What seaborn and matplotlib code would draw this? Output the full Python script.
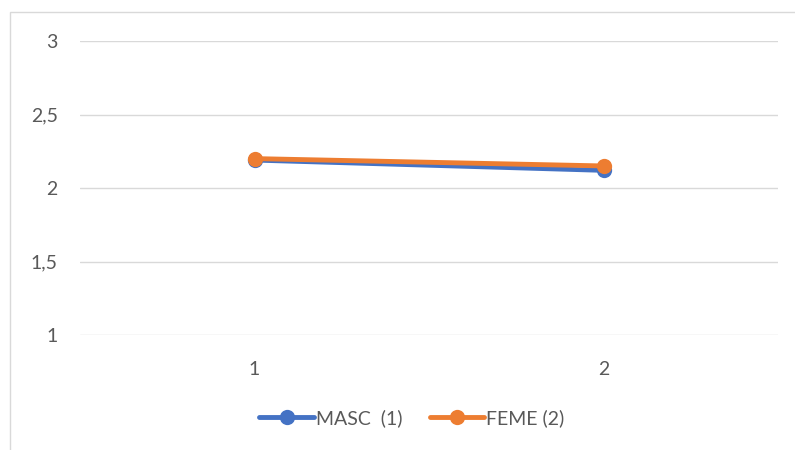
import matplotlib
matplotlib.use("Agg")
import matplotlib.pyplot as plt
import seaborn as sns
import pandas as pd
from matplotlib.patches import Rectangle
from matplotlib.lines import Line2D

categories = [1, 2]
masc = [2.19, 2.12]
feme = [2.20, 2.15]
series_names = ["MASC  (1)", "FEME (2)"]
y_ticks = [1, 1.5, 2, 2.5, 3]
y_labels = ["1", "1,5", "2", "2,5", "3"]

df = pd.DataFrame({
    "cat": categories * 2,
    "value": masc + feme,
    "serie": [series_names[0]] * 2 + [series_names[1]] * 2,
})

sns.set_theme(style="white")
plt.rcParams["font.family"] = ["Lato", "DejaVu Sans"]

colors = ["#4472C4", "#ED7D31"]
text_color = "#595959"

fig = plt.figure(figsize=(7.95, 4.5), dpi=100)
W, H = 795, 450
ax = fig.add_axes([80 / W, (H - 335) / H, (778 - 80) / W, (335 - 41) / H])

sns.lineplot(data=df, x="cat", y="value", hue="serie", palette=colors,
             marker="o", markersize=11, markeredgewidth=0, linewidth=3.5,
             ax=ax, legend=False)

ax.set_xlim(0.5, 2.5)
ax.set_ylim(1, 3)
ax.set_yticks(y_ticks)
ax.set_yticklabels(y_labels)
ax.set_xticks(categories)
ax.set_xticklabels([str(c) for c in categories])
ax.set_xlabel("")
ax.set_ylabel("")
ax.grid(axis="y", color="#D9D9D9", linewidth=1)
ax.set_axisbelow(True)
for s in ax.spines.values():
    s.set_visible(False)
ax.tick_params(axis="both", length=0, labelsize=14, colors=text_color)
ax.tick_params(axis="y", pad=16)
ax.tick_params(axis="x", pad=19)

# chart frame
fig.patches.append(Rectangle((10 / W, -0.1), 1, (H - 12) / H + 0.1,
                             transform=fig.transFigure, fill=False,
                             edgecolor="#D9D9D9", linewidth=1))

handles = [Line2D([0], [0], color=c, linewidth=3.5, marker="o",
                  markersize=11, markeredgewidth=0) for c in colors]
fig.legend(handles, series_names, loc="center", bbox_to_anchor=(0.518, (H - 418) / H),
           ncol=2, frameon=False, fontsize=14, handlelength=2.8,
           handletextpad=0.1, columnspacing=1.4, labelcolor=text_color)

fig.savefig("out.png", dpi=100)
